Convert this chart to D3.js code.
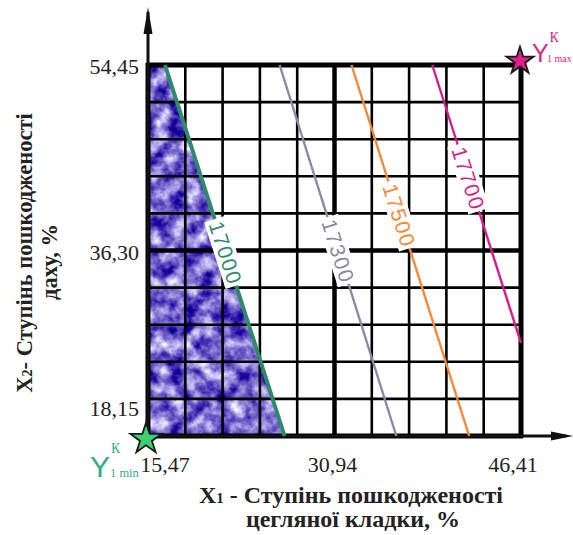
<!DOCTYPE html>
<html>
<head>
<meta charset="utf-8">
<script src="https://cdn.jsdelivr.net/npm/d3@7"></script>
<style>
  html, body { margin: 0; padding: 0; background: #ffffff; }
  svg { display: block; }
</style>
</head>
<body>
<script>
// ---------------- DATA ----------------
const xDomain = [15.47, 46.41];
const yDomain = [18.15, 54.45];
const xTickValues = [15.47, 30.94, 46.41];
const xTickLabels = ["15,47", "30,94", "46,41"];
const yTickValues = [54.45, 36.30, 18.15];
const yTickLabels = ["54,45", "36,30", "18,15"];
const gridDivisions = 10;

const contourLevels = [17000, 17300, 17500, 17700];
const contourStart = [[16.88, 54.45], [26.39, 54.45], [32.35, 54.45], [39.05, 54.45]];
const contourEnd   = [[26.80, 18.15], [36.07, 18.15], [42.11, 18.15], [46.41, 27.25]];
const contourColors = ["#2f8a6c", "#8a8aa6", "#f08a3a", "#d41f8a"];
const labelAlong = [0.505, 0.5, 0.404, 0.406];

// shaded region: left of the 17000 isoline
const shadeRegion = [[15.47, 54.45], [16.88, 54.45], [26.80, 18.15], [15.47, 18.15]];

const minPoint = [15.47, 18.15];
const maxPoint = [46.41, 54.45];

// ---------------- LAYOUT ----------------
const W = 573, H = 535;
const x = d3.scaleLinear().domain(xDomain).range([148, 521]);
const y = d3.scaleLinear().domain(yDomain).range([436, 65]);

const svg = d3.select("body").append("svg").attr("width", W).attr("height", H);
const defs = svg.append("defs");

// mottled texture filter
const f = defs.append("filter").attr("id", "mottle")
  .attr("x", 0).attr("y", 0).attr("width", 1).attr("height", 1)
  .attr("color-interpolation-filters", "sRGB");
f.append("feTurbulence").attr("type", "fractalNoise").attr("baseFrequency", 0.065)
  .attr("numOctaves", 4).attr("seed", 7).attr("result", "n");
f.append("feColorMatrix").attr("in", "n").attr("type", "matrix")
  .attr("values", "-1.6 0 0 0 1.27  -1.75 0 0 0 1.28  -0.8 0 0 0 1.2  0 0 0 0 1")
  .attr("result", "c");
f.append("feComposite").attr("in", "c").attr("in2", "SourceGraphic").attr("operator", "in");

// shading
svg.append("path")
  .attr("d", d3.line().x(d => x(d[0])).y(d => y(d[1]))(shadeRegion) + "Z")
  .attr("fill", "#6a60c0")
  .attr("filter", "url(#mottle)");

// grid
const gx = d3.range(gridDivisions + 1).map(i => xDomain[0] + i * (xDomain[1] - xDomain[0]) / gridDivisions);
const gy = d3.range(gridDivisions + 1).map(i => yDomain[0] + i * (yDomain[1] - yDomain[0]) / gridDivisions);
const sw = (d, i) => (i === 5 ? 4.5 : (i === 0 || i === 10 ? 5 : 2.6));
const grid = svg.append("g");
grid.selectAll("line.v").data(gx).join("line")
  .attr("x1", d => x(d)).attr("x2", d => x(d)).attr("y1", y(yDomain[0]) + 2).attr("y2", y(yDomain[1]) - 2)
  .attr("stroke", "#000").attr("stroke-width", sw);
grid.selectAll("line.h").data(gy).join("line")
  .attr("y1", d => y(d)).attr("y2", d => y(d)).attr("x1", x(xDomain[0]) - 2).attr("x2", x(xDomain[1]) + 2)
  .attr("stroke", "#000").attr("stroke-width", sw);

// axes
svg.append("line").attr("x1", x(xDomain[0])).attr("x2", x(xDomain[0]))
  .attr("y1", y(yDomain[0]) + 4).attr("y2", 12)
  .attr("stroke", "#111").attr("stroke-width", 3);
svg.append("path").attr("d", `M${x(xDomain[0])},7 L${x(xDomain[0]) + 4.5},34 L${x(xDomain[0]) - 4.5},34 Z`).attr("fill", "#111");
svg.append("line").attr("x1", x(xDomain[0])).attr("x2", 566)
  .attr("y1", y(yDomain[0])).attr("y2", y(yDomain[0]))
  .attr("stroke", "#111").attr("stroke-width", 3);
svg.append("path").attr("d", `M573,${y(yDomain[0])} L551,${y(yDomain[0]) - 4.5} L551,${y(yDomain[0]) + 4.5} Z`).attr("fill", "#111");

// contour lines
const cl = svg.append("g");
contourLevels.forEach((lv, i) => {
  cl.append("line")
    .attr("x1", x(contourStart[i][0])).attr("y1", y(contourStart[i][1]))
    .attr("x2", x(contourEnd[i][0])).attr("y2", y(contourEnd[i][1]))
    .attr("stroke", contourColors[i]).attr("stroke-width", i === 0 ? 4 : 2.4);
});

// contour labels
contourLevels.forEach((lv, i) => {
  const p0 = [x(contourStart[i][0]), y(contourStart[i][1])];
  const p1 = [x(contourEnd[i][0]), y(contourEnd[i][1])];
  const t = labelAlong[i];
  const cx = p0[0] + (p1[0] - p0[0]) * t, cy = p0[1] + (p1[1] - p0[1]) * t;
  const ang = Math.atan2(p1[1] - p0[1], p1[0] - p0[0]) * 180 / Math.PI;
  const g = svg.append("g").attr("transform", `translate(${cx},${cy}) rotate(${ang})`);
  g.append("rect").attr("x", -35).attr("y", -11).attr("width", 70).attr("height", 22).attr("fill", "#fff");
  g.append("text").attr("text-anchor", "middle").attr("dy", "0.36em")
    .attr("font-family", "'Liberation Sans', Arial, sans-serif").attr("font-size", 21)
    .attr("textLength", 64).attr("lengthAdjust", "spacing")
    .attr("fill", contourColors[i]).text(lv);
});

// tick labels
const tickFont = "'Liberation Serif', 'Times New Roman', serif";
const yTickShift = [1, 2, -28];
svg.selectAll("text.yt").data(yTickValues).join("text")
  .attr("x", 139).attr("y", (d, i) => y(d) + yTickShift[i]).attr("dy", "0.35em")
  .attr("text-anchor", "end").attr("font-family", tickFont).attr("font-size", 22).attr("fill", "#222")
  .text((d, i) => yTickLabels[i]);
const xTickShift = [17, -2, -8];
svg.selectAll("text.xt").data(xTickValues).join("text")
  .attr("x", (d, i) => x(d) + xTickShift[i]).attr("y", 472)
  .attr("text-anchor", "middle").attr("font-family", tickFont).attr("font-size", 22).attr("fill", "#222")
  .text((d, i) => xTickLabels[i]);

// axis titles
const xt = svg.append("text").attr("x", 351).attr("y", 503).attr("text-anchor", "middle")
  .attr("font-family", tickFont).attr("font-weight", "bold").attr("font-size", 24).attr("fill", "#222");
xt.append("tspan").text("X");
xt.append("tspan").attr("font-size", 15).text("1");
xt.append("tspan").text(" - Ступінь пошкодженості");
svg.append("text").attr("x", 353).attr("y", 527).attr("text-anchor", "middle")
  .attr("font-family", tickFont).attr("font-weight", "bold").attr("font-size", 24).attr("fill", "#222")
  .text("цегляної кладки, %");

const yt = svg.append("text").attr("transform", "translate(32,253) rotate(-90)").attr("text-anchor", "middle")
  .attr("font-family", tickFont).attr("font-weight", "bold").attr("font-size", 22.5).attr("fill", "#222");
yt.append("tspan").text("X");
yt.append("tspan").attr("font-size", 14).text("2");
yt.append("tspan").text("- Ступінь пошкодженості");
svg.append("text").attr("transform", "translate(57,262) rotate(-90)").attr("text-anchor", "middle")
  .attr("font-family", tickFont).attr("font-weight", "bold").attr("font-size", 22.5).attr("fill", "#222")
  .text("даху, %");

// stars
const star = d3.symbol().type(d3.symbolStar);
svg.append("path").attr("d", star.size(300)())
  .attr("transform", `translate(${x(minPoint[0]) - 2},${y(minPoint[1]) + 3})`)
  .attr("fill", "#3ecf72").attr("stroke", "#1a1a1a").attr("stroke-width", 1.8);
svg.append("path").attr("d", star.size(230)())
  .attr("transform", `translate(${x(maxPoint[0]) - 1},${y(maxPoint[1]) - 4})`)
  .attr("fill", "#e0208c").attr("stroke", "#1a1a1a").attr("stroke-width", 1.8);

// star labels
function yLabel(px, py, size, color, sub, subSize, subDx) {
  const g = svg.append("g").attr("fill", color);
  g.append("text").attr("x", px).attr("y", py).attr("font-family", "'Liberation Sans', Arial, sans-serif")
    .attr("font-size", size).text("Y");
  g.append("text").attr("x", px + size * 0.7).attr("y", py - size * 0.8).attr("font-family", tickFont)
    .attr("font-size", 14).text("К");
  g.append("text").attr("x", px + subDx).attr("y", py).attr("font-family", tickFont)
    .attr("font-size", subSize).text(sub);
}
yLabel(90, 477, 30, "#35a98a", "1 min", 12.5, 20);
yLabel(532, 62, 25, "#d8288c", "1 max", 10, 15);
</script>
</body>
</html>
